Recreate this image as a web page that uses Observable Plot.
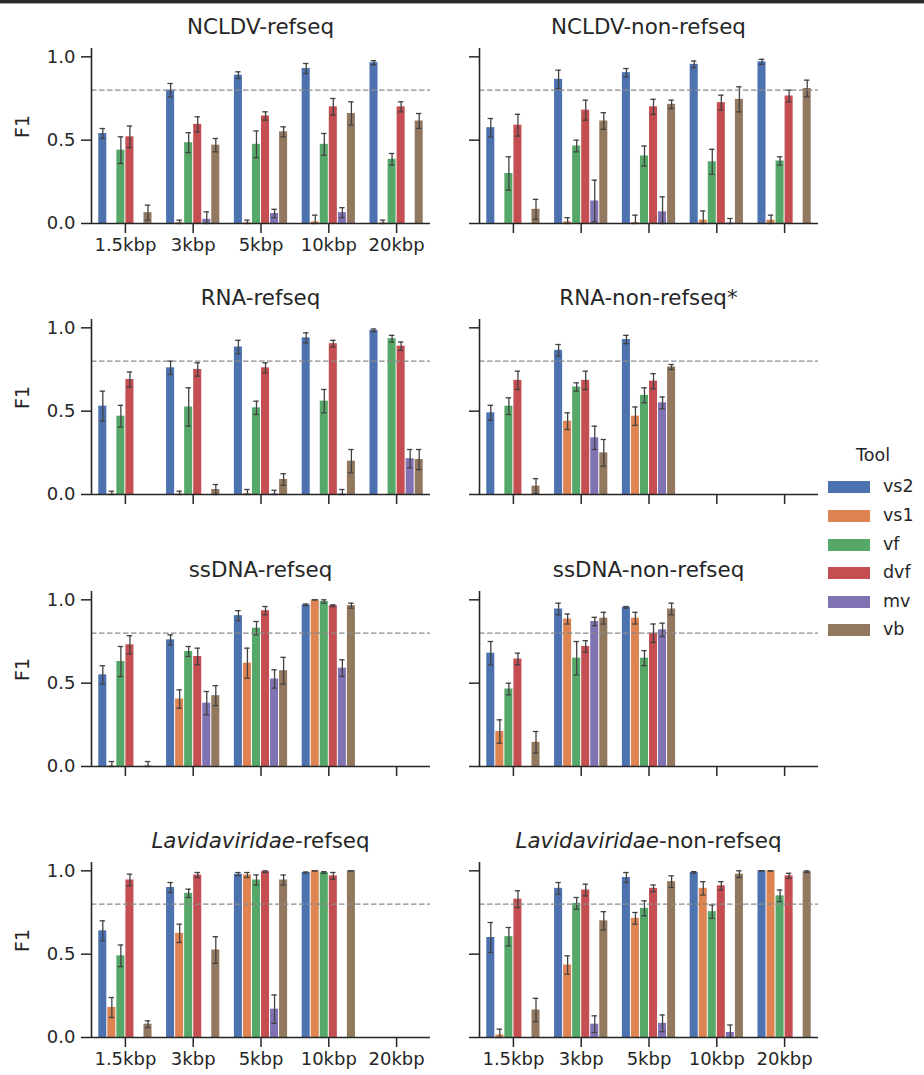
<!DOCTYPE html>
<html>
<head>
<meta charset="utf-8">
<script src="https://cdn.jsdelivr.net/npm/d3@7"></script>
<script src="https://cdn.jsdelivr.net/npm/@observablehq/plot@0.6"></script>
<style>
  html, body { margin: 0; padding: 0; background: #fff; }
  #wrap { position: relative; width: 924px; height: 1075px; overflow: hidden; font-family: "DejaVu Sans", sans-serif; color: #262626; }
  .topline { position: absolute; left: 0; top: 0; width: 924px; height: 3px; background: #2a2a2a; border-bottom: 1px solid #aaa; }
  .panel { position: absolute; }
  .title { position: absolute; width: 400px; text-align: center; font-size: 21.4px; line-height: 24px; white-space: nowrap; }
  .legend { position: absolute; left: 820px; top: 440px; width: 104px; font-size: 17.5px; }
  .legend .lt { position: absolute; left: 0; width: 106px; text-align: center; line-height: 20px; }
  .legend .sw { position: absolute; left: 8px; width: 42px; height: 12px; }
  .legend .lb { position: absolute; left: 63px; line-height: 20px; }
</style>
</head>
<body>
<div id="wrap"><div class="topline"></div></div>
<script>
// ---------- data ----------
const sizes = ["1.5kbp", "3kbp", "5kbp", "10kbp", "20kbp"];
const tools = ["vs2", "vs1", "vf", "dvf", "mv", "vb"];
const toolColors = ["#4c72b0", "#dd8452", "#55a868", "#c44e52", "#8172b3", "#937860"];
const yTicks = [0, 0.5, 1.0];
const threshold = [0.8];

// F1 per size (rows) per tool (columns: vs2, vs1, vf, dvf, mv, vb); null = no data
const ncldvRefF1 = [
  [0.54, 0, 0.44, 0.52, 0, 0.065],
  [0.80, 0.004, 0.485, 0.595, 0.025, 0.47],
  [0.89, 0.004, 0.475, 0.645, 0.06, 0.55],
  [0.93, 0.01, 0.475, 0.70, 0.065, 0.66],
  [0.965, 0.003, 0.385, 0.70, 0, 0.615]
];
const ncldvRefErr = [
  [0.03, 0, 0.08, 0.065, 0, 0.045],
  [0.04, 0.016, 0.06, 0.045, 0.045, 0.04],
  [0.02, 0.016, 0.08, 0.025, 0.025, 0.03],
  [0.03, 0.04, 0.065, 0.05, 0.03, 0.07],
  [0.012, 0.017, 0.035, 0.03, 0, 0.045]
];
const ncldvNonF1 = [
  [0.575, 0, 0.30, 0.59, 0, 0.085],
  [0.865, 0.01, 0.465, 0.68, 0.135, 0.615],
  [0.905, 0.005, 0.405, 0.70, 0.07, 0.715],
  [0.955, 0.02, 0.37, 0.725, 0.003, 0.745],
  [0.97, 0.02, 0.375, 0.765, 0, 0.81]
];
const ncldvNonErr = [
  [0.055, 0, 0.10, 0.065, 0, 0.06],
  [0.055, 0.025, 0.035, 0.06, 0.125, 0.05],
  [0.025, 0.045, 0.06, 0.045, 0.09, 0.025],
  [0.02, 0.055, 0.075, 0.045, 0.027, 0.075],
  [0.015, 0.03, 0.025, 0.035, 0, 0.05]
];
const rnaRefF1 = [
  [0.53, 0.003, 0.47, 0.69, 0, 0],
  [0.76, 0.003, 0.525, 0.75, 0, 0.03],
  [0.885, 0.005, 0.52, 0.76, 0.003, 0.09],
  [0.94, 0, 0.56, 0.905, 0.003, 0.20],
  [0.985, 0, 0.935, 0.89, 0.215, 0.21]
];
const rnaRefErr = [
  [0.09, 0.017, 0.065, 0.045, 0, 0],
  [0.04, 0.017, 0.115, 0.04, 0, 0.03],
  [0.04, 0.025, 0.04, 0.03, 0.022, 0.035],
  [0.03, 0, 0.07, 0.02, 0.027, 0.07],
  [0.008, 0, 0.02, 0.025, 0.055, 0.06]
];
const rnaNonF1 = [
  [0.49, 0, 0.53, 0.685, 0, 0.05],
  [0.865, 0.44, 0.645, 0.685, 0.34, 0.25],
  [0.93, 0.47, 0.595, 0.68, 0.55, 0.765],
  null,
  null
];
const rnaNonErr = [
  [0.045, 0, 0.05, 0.055, 0, 0.045],
  [0.035, 0.05, 0.025, 0.055, 0.07, 0.08],
  [0.025, 0.055, 0.045, 0.045, 0.035, 0.015],
  null,
  null
];
const ssdnaRefF1 = [
  [0.55, 0.003, 0.63, 0.73, 0, 0.003],
  [0.76, 0.405, 0.69, 0.66, 0.38, 0.425],
  [0.905, 0.62, 0.83, 0.935, 0.525, 0.575],
  [0.97, 1.0, 0.99, 0.965, 0.59, 0.965],
  null
];
const ssdnaRefErr = [
  [0.055, 0.027, 0.09, 0.055, 0, 0.027],
  [0.03, 0.055, 0.03, 0.05, 0.07, 0.06],
  [0.03, 0.09, 0.04, 0.025, 0.055, 0.08],
  [0.005, 0, 0.01, 0.005, 0.05, 0.015],
  null
];
const ssdnaNonF1 = [
  [0.68, 0.21, 0.465, 0.645, 0, 0.145],
  [0.945, 0.885, 0.65, 0.72, 0.87, 0.89],
  [0.955, 0.89, 0.65, 0.80, 0.82, 0.945],
  null,
  null
];
const ssdnaNonErr = [
  [0.07, 0.07, 0.035, 0.035, 0, 0.065],
  [0.035, 0.03, 0.10, 0.035, 0.025, 0.035],
  [0.005, 0.035, 0.045, 0.055, 0.04, 0.035],
  null,
  null
];
const lavRefF1 = [
  [0.64, 0.18, 0.49, 0.945, 0, 0.08],
  [0.90, 0.625, 0.865, 0.975, 0, 0.525],
  [0.98, 0.975, 0.945, 0.995, 0.17, 0.945],
  [0.99, 1.0, 0.99, 0.97, 0, 1.0],
  null
];
const lavRefErr = [
  [0.06, 0.06, 0.065, 0.035, 0, 0.02],
  [0.03, 0.055, 0.025, 0.015, 0, 0.08],
  [0.01, 0.015, 0.03, 0.005, 0.085, 0.03],
  [0.003, 0, 0.005, 0.02, 0, 0],
  null
];
const lavNonF1 = [
  [0.60, 0.015, 0.605, 0.83, 0, 0.165],
  [0.895, 0.435, 0.805, 0.885, 0.08, 0.70],
  [0.96, 0.715, 0.775, 0.895, 0.085, 0.935],
  [0.99, 0.895, 0.755, 0.91, 0.03, 0.98],
  [1.0, 1.0, 0.85, 0.97, 0, 0.995]
];
const lavNonErr = [
  [0.09, 0.035, 0.055, 0.05, 0, 0.07],
  [0.035, 0.055, 0.035, 0.035, 0.05, 0.055],
  [0.03, 0.035, 0.045, 0.02, 0.05, 0.035],
  [0.005, 0.04, 0.04, 0.025, 0.045, 0.02],
  [0, 0, 0.035, 0.015, 0, 0.005]
];

const panelTitles = ["NCLDV-refseq", "NCLDV-non-refseq", "RNA-refseq", "RNA-non-refseq*",
  "ssDNA-refseq", "ssDNA-non-refseq", "Lavidaviridae-refseq", "Lavidaviridae-non-refseq"];
const panelF1 = [ncldvRefF1, ncldvNonF1, rnaRefF1, rnaNonF1, ssdnaRefF1, ssdnaNonF1, lavRefF1, lavNonF1];
const panelErr = [ncldvRefErr, ncldvNonErr, rnaRefErr, rnaNonErr, ssdnaRefErr, ssdnaNonErr, lavRefErr, lavNonErr];
const italicWord = "Lavidaviridae";

// ---------- layout ----------
const wrap = document.getElementById("wrap");
const rowZero = [223, 494, 766, 1037];   // pixel row of F1 = 0 in each panel row
const frameH = 175;                       // 0 .. 1.05
const mTop = 4, mBottom = 42;
const colGeom = [
  {left: 0, width: 440, ml: 91, mr: 10},
  {left: 440, width: 400, ml: 39, mr: 22}
];
const bw = 0.8 / tools.length;
const cap = 0.04;
const errColor = "#424242";
const axisColor = "#262626";
const tickFont = 18;

panelTitles.forEach((title, p) => {
  const row = Math.floor(p / 2), col = p % 2;
  const g = colGeom[col];
  const f1 = panelF1[p], er = panelErr[p];
  const data = [];
  f1.forEach((vals, si) => {
    if (!vals) return;
    vals.forEach((v, ti) => {
      const e = er[si][ti];
      data.push({si, ti, tool: tools[ti], v, e,
        lo: Math.max(0, v - e), hi: Math.min(1, v + e)});
    });
  });
  const errData = data.filter(d => d.v > 0);
  const xc = d => d.si - 0.4 + (d.ti + 0.5) * bw;
  const showXLabels = (row === 0 && col === 0) || row === 3;
  const showYLabels = col === 0;

  const marks = [
    Plot.rectY(data, {
      x1: d => d.si - 0.4 + d.ti * bw,
      x2: d => d.si - 0.4 + (d.ti + 1) * bw,
      y1: 0, y2: "v", fill: "tool", insetLeft: 0.5, insetRight: 0.5
    }),
    Plot.ruleX(errData, {x: xc, y1: "lo", y2: "hi", stroke: errColor, strokeWidth: 1.3}),
    Plot.ruleY(errData, {y: "hi", x1: d => xc(d) - cap, x2: d => xc(d) + cap, stroke: errColor, strokeWidth: 1.3}),
    Plot.ruleY(errData, {y: "lo", x1: d => xc(d) - cap, x2: d => xc(d) + cap, stroke: errColor, strokeWidth: 1.3}),
    Plot.ruleY(threshold, {stroke: "#8a8a8a", strokeWidth: 1.1, strokeDasharray: "5.5,2.5"}),
    Plot.ruleY([0], {stroke: axisColor, strokeWidth: 1.6}),
    Plot.ruleX([-0.5], {stroke: axisColor, strokeWidth: 1.6}),
    Plot.axisY(yTicks, {
      tickSize: 10, tickPadding: 6, stroke: axisColor, strokeWidth: 1.5,
      tickFormat: showYLabels ? d3.format(".1f") : () => "", label: null, fontSize: tickFont
    }),
    Plot.axisX(d3.range(sizes.length), {
      tickSize: 10, tickPadding: 5, stroke: axisColor, strokeWidth: 1.5,
      tickFormat: showXLabels ? (i => sizes[i]) : () => "", label: null, fontSize: tickFont
    })
  ];
  if (showYLabels) {
    marks.push(Plot.text(["F1"], {frameAnchor: "left", dx: -69, dy: 2, rotate: -90,
      text: d => d, fontSize: 19, fill: axisColor}));
  }

  const chart = Plot.plot({
    width: g.width,
    height: mTop + frameH + mBottom,
    marginLeft: g.ml, marginRight: g.mr, marginTop: mTop, marginBottom: mBottom,
    x: {domain: [-0.5, sizes.length - 0.5]},
    y: {domain: [0, 1.05]},
    color: {domain: tools, range: toolColors},
    style: {fontFamily: "DejaVu Sans, sans-serif", fontSize: tickFont + "px", color: axisColor, background: "transparent", overflow: "visible"},
    marks
  });
  const holder = document.createElement("div");
  holder.className = "panel";
  holder.style.left = g.left + "px";
  holder.style.top = (rowZero[row] - frameH - mTop) + "px";
  holder.appendChild(chart);
  wrap.appendChild(holder);

  // title above the panel
  const t = document.createElement("div");
  t.className = "title";
  const center = g.left + g.ml + (g.width - g.ml - g.mr) / 2;
  t.style.left = (center - 200) + "px";
  t.style.top = (rowZero[row] - 188 - 20) + "px";
  if (title.startsWith(italicWord)) {
    const i = document.createElement("i");
    i.textContent = italicWord;
    t.appendChild(i);
    t.appendChild(document.createTextNode(title.slice(italicWord.length)));
  } else {
    t.textContent = title;
  }
  wrap.appendChild(t);
});

// legend
const leg = document.createElement("div");
leg.className = "legend";
const lt = document.createElement("div");
lt.className = "lt";
lt.style.top = "5px";
lt.textContent = "Tool";
leg.appendChild(lt);
const legY = [47, 76, 105, 133, 162, 190];
tools.forEach((tool, i) => {
  const sw = document.createElement("div");
  sw.className = "sw";
  sw.style.top = (legY[i] - 6) + "px";
  sw.style.background = toolColors[i];
  leg.appendChild(sw);
  const lb = document.createElement("div");
  lb.className = "lb";
  lb.style.top = (legY[i] - 11) + "px";
  lb.textContent = tool;
  leg.appendChild(lb);
});
wrap.appendChild(leg);
</script>
</body>
</html>
